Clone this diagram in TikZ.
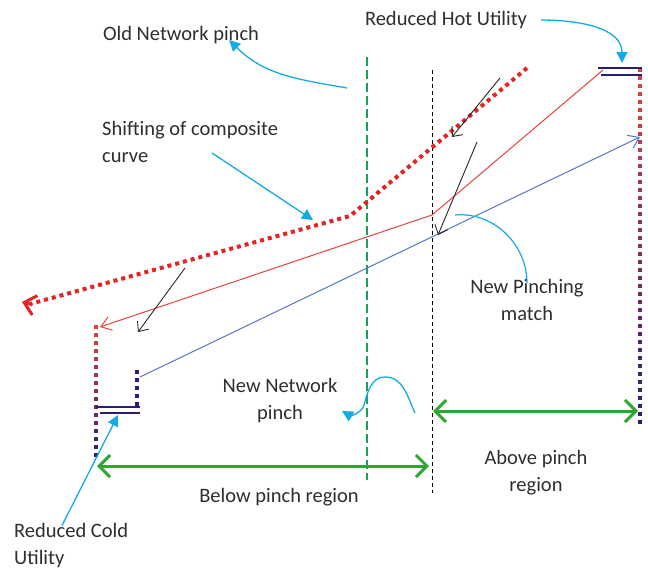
\documentclass[tikz,border=0pt]{standalone}
\usepackage{fontspec}
\setmainfont{Carlito}
\usetikzlibrary{arrows.meta}
\definecolor{hotred}{RGB}{232,66,60}
\definecolor{olddot}{RGB}{226,36,36}
\definecolor{coldblue}{RGB}{88,116,196}
\definecolor{callblue}{RGB}{20,170,230}
\definecolor{pinchgreen}{RGB}{26,160,90}
\definecolor{regiongreen}{RGB}{46,168,50}
\definecolor{utilnavy}{RGB}{40,30,120}
\newcommand{\setupPoints}{
    \coordinate (h0) at (603,70);   % new hot composite
    \coordinate (h1) at (432,215);
    \coordinate (h2) at (100,327);

    \coordinate (o0) at (527,68);   % old hot composite
    \coordinate (o1) at (350,216);
    \coordinate (o2) at (22,302);

    \coordinate (c0) at (140,377);  % cold composite
    \coordinate (c1) at (640,137);

    \coordinate (gp0) at (367,57);  % old pinch
    \coordinate (gp1) at (367,480);
    \coordinate (np0) at (432,70);  % new pinch
    \coordinate (np1) at (432,493);
}
\newcommand{\utilDots}[4]{ % x, y from, y to, step
  \foreach \y [evaluate=\y as \p using {int((#3-\y)/(#3-#2)*100)}] in {#2,#4,...,#3}
    \fill[hotred!\p!utilnavy] (#1-1.6,\y-1.6) rectangle ++(3.2,3.2);
}
\tikzset{
  lbl/.style={font=\fontsize{20.5}{27}\selectfont, text=black!82, inner sep=0pt},
  callout/.style={callblue, line width=1.3pt, -{Triangle[length=11pt,width=11pt]}},
  shiftarrow/.style={black!85, line width=0.9pt, -{Straight Barb[length=8pt,width=14pt]}},
  regionarrow/.style={regiongreen, line width=3pt,
    {Straight Barb[length=11pt,width=22pt]}-{Straight Barb[length=11pt,width=22pt]}},
}
\begin{document}
\begin{tikzpicture}[x=1pt,y=-1pt]
  \useasboundingbox (0,0) rectangle (648,573);
  \setupPoints;

  % pinch lines
  \draw[pinchgreen, line width=2.6pt, dash pattern=on 9pt off 4pt] (gp0) -- (gp1);
  \draw[black, line width=0.8pt, dash pattern=on 4pt off 3pt] (np0) -- (np1);

  % utilities
  \utilDots{640}{70}{425}{78}
  \utilDots{96}{327}{460}{335}
  \foreach \y in {372,380,...,404}
    \fill[utilnavy] (137-1.6,\y-1.6) rectangle ++(3.2,3.2);
  \draw[utilnavy, line width=1.5pt] (598,68) -- (642,68);
  \draw[utilnavy, line width=1.5pt] (601,75) -- (642,75);
  \draw[utilnavy, line width=1.5pt] (96,407) -- (140,407);
  \draw[utilnavy, line width=1.5pt] (100,413) -- (140,413);

  % composite curves
  \draw[olddot, line width=4pt, dash pattern=on 4pt off 4pt] (o0) -- (o1) -- ([xshift=8pt,yshift=-2pt]o2);
  \draw[olddot, line width=3pt, {Straight Barb[length=11pt,width=20pt]}-] (o2) -- ([xshift=10pt,yshift=-2.6pt]o2);
  \draw[hotred, line width=1pt, -{Straight Barb[length=10pt,width=14pt]}] (h0) -- (h1) -- (h2);
  \draw[coldblue, line width=1pt, -{Straight Barb[length=10pt,width=14pt]}] (c0) -- (c1);

  % shifting arrows
  \draw[shiftarrow] (500,78) -- (452,137);
  \draw[shiftarrow] (477,142) -- (438,235);
  \draw[shiftarrow] (185,268) -- (138,332);

  % region arrows
  \draw[regionarrow] (97,466) -- (429,466);
  \draw[regionarrow] (433,411) -- (638,411);

  % labels
  \node[lbl] (oldpinch) at (181,35) {Old Network pinch};
  \node[lbl, align=left, anchor=west] (shiftlbl) at (102,142) {Shifting of composite\\curve};
  \node[lbl] (hotutil) at (446,20) {Reduced Hot Utility};
  \node[lbl, align=center] (newmatch) at (527,300) {New Pinching\\match};
  \node[lbl, align=center] (newpinch) at (280,401) {New Network\\pinch};
  \node[lbl] (below) at (279,497) {Below pinch region};
  \node[lbl, align=center] (above) at (536,473) {Above pinch\\region};
  \node[lbl, align=left, anchor=west] (coldutil) at (14,546) {Reduced Cold\\Utility};

  % callouts
  \draw[callout] (347,88) to[out=170,in=-45] ([xshift=-30pt,yshift=4pt]oldpinch.south east);
  \draw[callout] ([xshift=110pt,yshift=-11pt]shiftlbl.west) -- (313,220);
  \draw[callout] ([xshift=14pt]hotutil.east) to[out=0,in=90] (622,63);
  \draw[callblue, line width=1.2pt] (455,215) to[out=5,in=90] ([yshift=-4pt]newmatch.north);
  \draw[callout] (415,413) to[out=115,in=0] (385,377) to[out=180,in=75] (364,405)
    to[out=-105,in=-30] (342,411);
  \draw[callout] ([yshift=-2pt]coldutil.north -| 62,0) -- (118,415);
\end{tikzpicture}
\end{document}
